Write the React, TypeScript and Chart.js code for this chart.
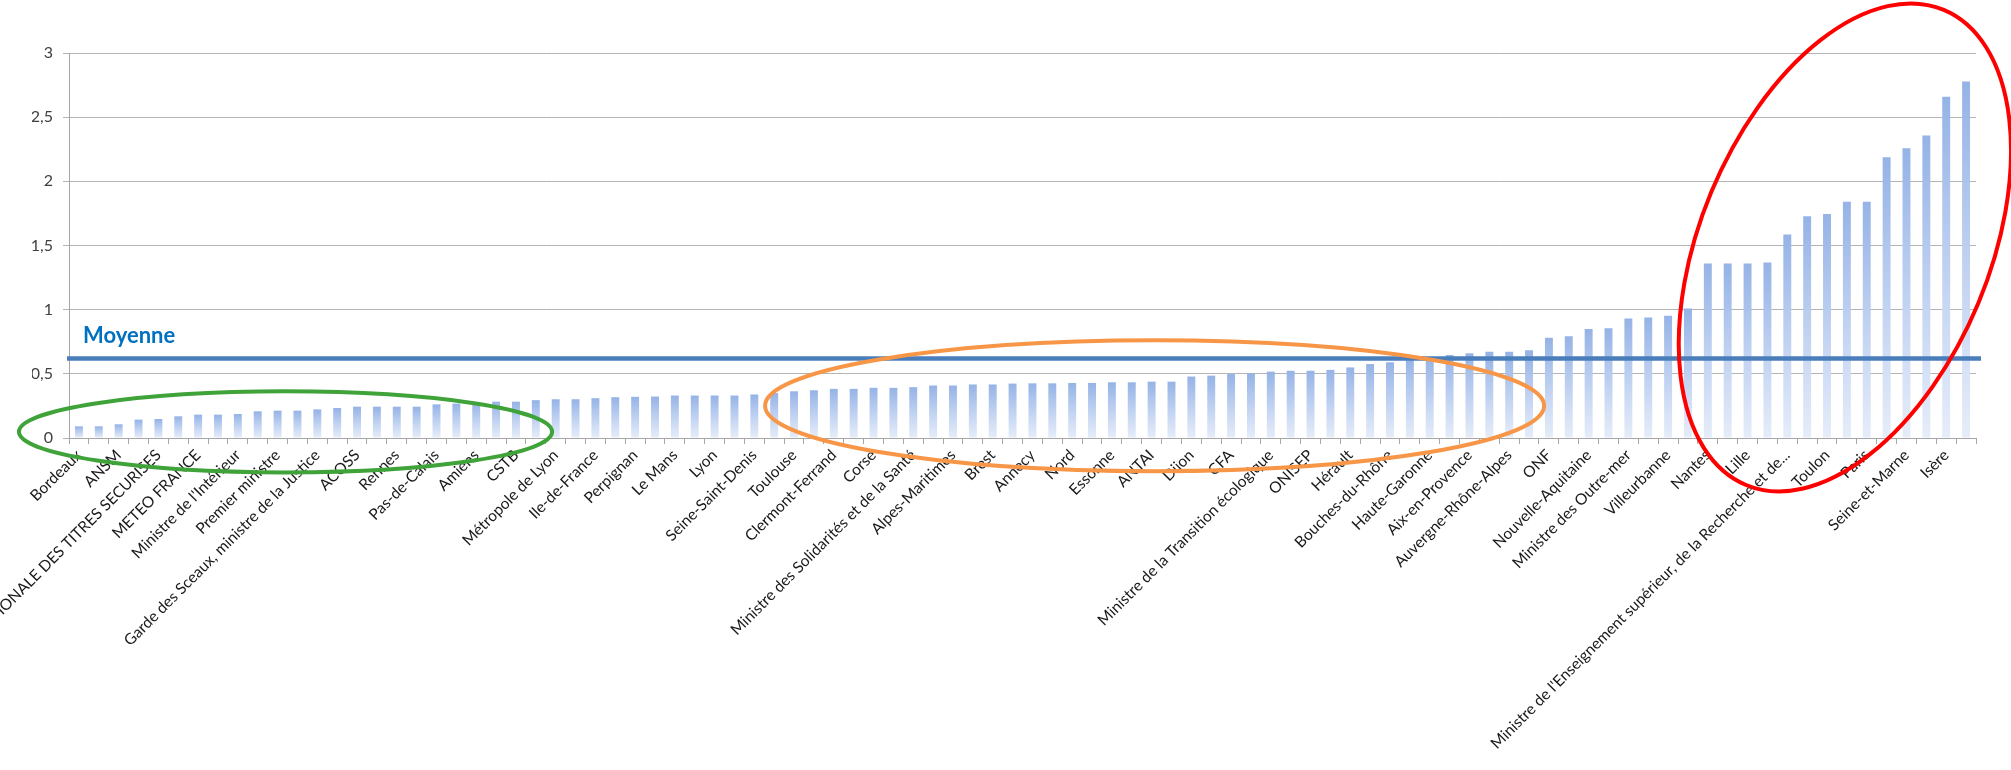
import { useEffect, useRef } from "react";
import { Chart, ChartConfiguration, Plugin } from "chart.js/auto";

// named categories (every other bar carries a label in the source chart)
const namedCategories = [
	"Bordeaux",
	"ANSM",
	"AGENCE NATIONALE DES TITRES SECURISES",
	"METEO FRANCE",
	"Ministre de l'Intérieur",
	"Premier ministre",
	"Garde des Sceaux, ministre de la Justice",
	"ACOSS",
	"Rennes",
	"Pas-de-Calais",
	"Amiens",
	"CSTB",
	"Métropole de Lyon",
	"Ile-de-France",
	"Perpignan",
	"Le Mans",
	"Lyon",
	"Seine-Saint-Denis",
	"Toulouse",
	"Clermont-Ferrand",
	"Corse",
	"Ministre des Solidarités et de la Santé",
	"Alpes-Maritimes",
	"Brest",
	"Annecy",
	"Nord",
	"Essonne",
	"ANTAI",
	"Dijon",
	"CFA",
	"Ministre de la Transition écologique",
	"ONISEP",
	"Hérault",
	"Bouches-du-Rhône",
	"Haute-Garonne",
	"Aix-en-Provence",
	"Auvergne-Rhône-Alpes",
	"ONF",
	"Nouvelle-Aquitaine",
	"Ministre des Outre-mer",
	"Villeurbanne",
	"Nantes",
	"Lille",
	"Ministre de l'Enseignement supérieur, de la Recherche et de...",
	"Toulon",
	"Paris",
	"Seine-et-Marne",
	"Isère",
];

// the unnamed bar after each named one has no visible label
const categories = namedCategories.flatMap((name) => [name, ""]);

const values = [
	0.091, 0.091, 0.107, 0.143, 0.148, 0.169, 0.182, 0.182, 0.187, 0.208,
	0.213, 0.213, 0.223, 0.234, 0.244, 0.244, 0.244, 0.244, 0.262, 0.268,
	0.278, 0.283, 0.283, 0.295, 0.302, 0.302, 0.31, 0.318, 0.321, 0.323,
	0.331, 0.331, 0.331, 0.331, 0.339, 0.35, 0.364, 0.372, 0.383, 0.383,
	0.391, 0.391, 0.396, 0.409, 0.409, 0.417, 0.417, 0.424, 0.426, 0.426,
	0.429, 0.429, 0.434, 0.434, 0.439, 0.439, 0.479, 0.486, 0.498, 0.504,
	0.517, 0.524, 0.524, 0.531, 0.55, 0.576, 0.59, 0.625, 0.632, 0.647,
	0.66, 0.673, 0.673, 0.684, 0.781, 0.793, 0.85, 0.856, 0.931, 0.939,
	0.952, 1.009, 1.36, 1.36, 1.36, 1.368, 1.586, 1.727, 1.745, 1.841,
	1.841, 2.187, 2.257, 2.358, 2.66, 2.777,
];

const yTicks = [0, 0.5, 1, 1.5, 2, 2.5, 3];

const meanValue = 0.62;
const meanLabel = "Moyenne";

// hand-drawn highlight rings, in data units (x: category index, y: value)
const rings = [
	{ color: "#3FA33A", cx: 10.4, cy: 0.048, rx: 13.42, ry: 0.316, angle: 0 },
	{ color: "#F79646", cx: 54.15, cy: 0.251, rx: 19.61, ry: 0.51, angle: 0 },
	{ color: "#FF0000", cx: 88.9, cy: 1.485, rx: 7.28, ry: 2.005, angle: 22.6 },
];

const meanPlugin: Plugin<"bar"> = {
	id: "meanLine",
	afterDatasetsDraw(chart) {
		const { ctx, chartArea, scales } = chart;
		const y = scales.y.getPixelForValue(meanValue);
		ctx.save();
		ctx.strokeStyle = "#4A7EBB";
		ctx.lineWidth = 4.5;
		ctx.beginPath();
		ctx.moveTo(chartArea.left - 2, y);
		ctx.lineTo(chartArea.right + 5, y);
		ctx.stroke();
		ctx.fillStyle = "#0070C0";
		ctx.font = "bold 22px Lato";
		ctx.textBaseline = "alphabetic";
		ctx.fillText(meanLabel, chartArea.left + 14, y - 15);
		ctx.restore();
	},
};

const ringPlugin: Plugin<"bar"> = {
	id: "rings",
	afterDraw(chart) {
		const { ctx, scales } = chart;
		const xs = scales.x;
		const ys = scales.y;
		const catW = xs.getPixelForValue(1) - xs.getPixelForValue(0);
		const unitH = ys.getPixelForValue(0) - ys.getPixelForValue(1);
		ctx.save();
		ctx.lineWidth = 4;
		rings.forEach((r) => {
			ctx.strokeStyle = r.color;
			ctx.beginPath();
			ctx.ellipse(
				xs.getPixelForValue(r.cx),
				ys.getPixelForValue(r.cy),
				r.rx * catW,
				r.ry * unitH,
				(r.angle * Math.PI) / 180,
				0,
				Math.PI * 2,
			);
			ctx.stroke();
		});
		ctx.restore();
	},
};

const ChartComponent = () => {
	const chartRef = useRef<HTMLCanvasElement | null>(null);
	const myChartRef = useRef<Chart<"bar", number[], string> | null>(null);

	useEffect(() => {
		if (chartRef.current) {
			const config: ChartConfiguration<"bar", number[], string> = {
				type: "bar",
				data: {
					labels: categories,
					datasets: [
						{
							label: "Valeur",
							data: values,
							backgroundColor: (c) => {
								const chart = c.chart;
								if (!chart.chartArea || c.raw === undefined) return "#A9C1EA";
								const ys = chart.scales.y;
								const top = ys.getPixelForValue(c.raw as number);
								const bottom = ys.getPixelForValue(0);
								const g = chart.ctx.createLinearGradient(0, top, 0, bottom);
								g.addColorStop(0, "#95B3E6");
								g.addColorStop(0.55, "#C3D4F2");
								g.addColorStop(1, "#E6EDF9");
								return g;
							},
							barPercentage: 0.4,
							categoryPercentage: 1,
						},
					],
				},
				options: {
					responsive: false,
					animation: false,
					devicePixelRatio: 1,
					layout: {
						padding: { left: 32, top: 53, right: 35, bottom: 0 },
					},
					scales: {
						x: {
							border: { display: true, color: "#A6A6A6" },
							grid: {
								offset: true,
								drawOnChartArea: false,
								tickLength: 6,
								color: "#A6A6A6",
							},
							afterFit: (scale) => {
								scale.height = 332;
							},
							ticks: {
								autoSkip: false,
								maxRotation: 45,
								minRotation: 45,
								padding: 2,
								color: "#1A1A1A",
								font: { family: "Lato", size: 15.5 },
							},
						},
						y: {
							min: 0,
							max: 3,
							border: { display: true, color: "#A6A6A6" },
							grid: { color: "#B4B4B4", tickLength: 6 },
							afterBuildTicks: (scale) => {
								scale.ticks = yTicks.map((v) => ({ value: v }));
							},
							afterFit: (scale) => {
								scale.width = 37;
							},
							ticks: {
								padding: 10,
								color: "#404040",
								font: { family: "Lato", size: 16 },
								callback: (v) => String(v).replace(".", ","),
							},
						},
					},
					plugins: {
						legend: { display: false },
						tooltip: { enabled: false },
					},
				},
				plugins: [meanPlugin, ringPlugin],
			};

			myChartRef.current = new Chart(chartRef.current, config);

			return () => {
				myChartRef.current?.destroy();
			};
		}
	}, []);

	return <canvas ref={chartRef} width={2011} height={770}></canvas>;
};

export default function App() {
	return (
		<div style={{ position: "absolute", left: 0, top: 0, width: 2011, height: 770, background: "#fff" }}>
			<ChartComponent />
		</div>
	);
}
